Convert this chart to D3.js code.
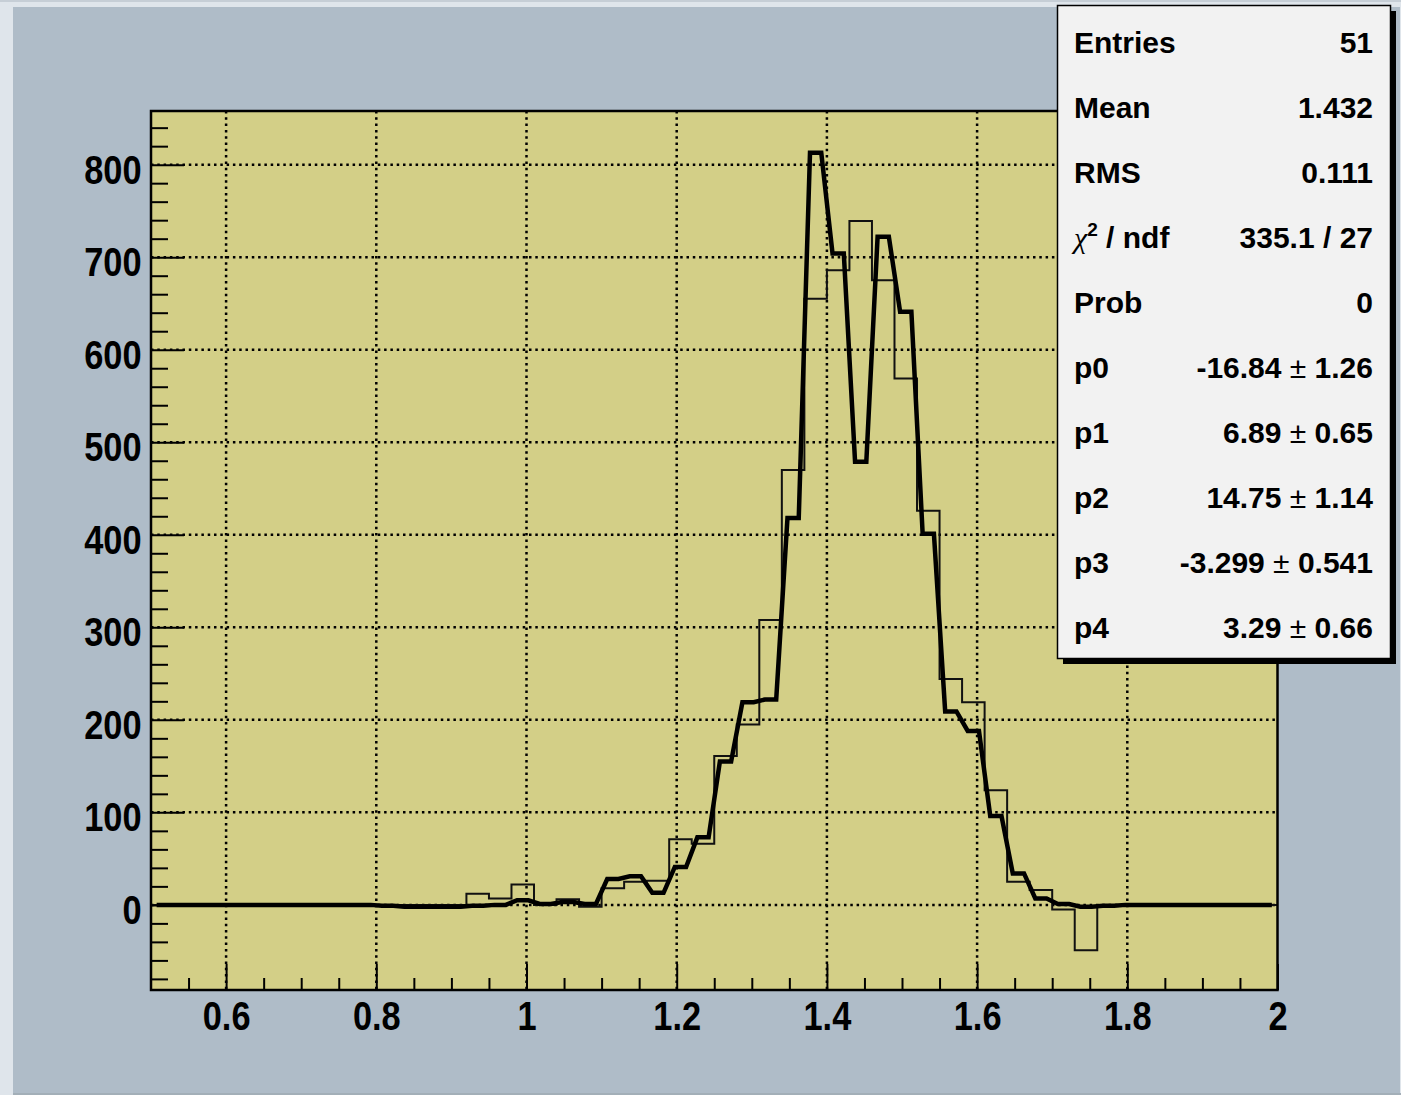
<!DOCTYPE html>
<html>
<head>
<meta charset="utf-8">
<script src="https://cdn.jsdelivr.net/npm/d3@7"></script>
<style>
  body { margin: 0; background: #dfe5eb; }
  svg { display: block; font-family: "Liberation Sans", Arial, Helvetica, sans-serif; }
</style>
</head>
<body>
<svg id="chart" width="1401" height="1095"></svg>
<script>
// histogram range and contents (50 bins)
const binLow = 0.5, binHigh = 2.0;
const histCounts = [
  0, 0, 0, 0, 0, 0, 0, 0, 0, 0,
  0, 0, 0, 0, 12, 7, 22, 0, 6, -2,
  18, 25, 26, 71, 66, 161, 195, 308, 470, 655,
  686, 739, 675, 569, 426, 244, 219, 124, 25, 16,
  -5, -49, -1, 0, 0, 0, 0, 0, 0, 0
];
// fitted function, one value per bin
const fitValues = [
  0, 0, 0, 0, 0, 0, 0, 0, 0, 0,
  -1, -2, -2, -2, -1, 0, 5, 1, 3, 1,
  28, 31, 13, 41, 73, 155, 219, 222, 418, 813,
  704, 479, 722, 641, 401, 209, 188, 96, 34, 7,
  1, -2, -1, 0, 0, 0, 0, 0, 0, 0
];
const yRange = [-92, 858];
const xTickValues = [0.6, 0.8, 1, 1.2, 1.4, 1.6, 1.8, 2];
const yTickValues = [0, 100, 200, 300, 400, 500, 600, 700, 800];
const statLabels = ["Entries", "Mean", "RMS", "chi2", "Prob", "p0", "p1", "p2", "p3", "p4"];
const statValues = ["51", "1.432", "0.111", "335.1 / 27", "0",
  "-16.84 ± 1.26", "6.89 ± 0.65", "14.75 ± 1.14", "-3.299 ± 0.541", "3.29 ± 0.66"];

const svg = d3.select("#chart");
const width = +svg.attr("width");
const height = +svg.attr("height");
const frame = { left: 151, right: 1277.5, top: 111, bottom: 990 };

// canvas
svg.append("rect").attr("width", width).attr("height", height).attr("fill", "#dfe5eb");
svg.append("line").attr("x1", 0).attr("x2", width).attr("y1", 1).attr("y2", 1)
  .attr("stroke", "#c6ced6").attr("stroke-width", 2);
svg.append("rect")
  .attr("x", 13).attr("y", 7).attr("width", 1387).attr("height", 1086)
  .attr("fill", "#afbcc8");
svg.append("line").attr("x1", 13).attr("x2", width).attr("y1", 1094).attr("y2", 1094)
  .attr("stroke", "#8f9ca7").attr("stroke-width", 1.5);

const x = d3.scaleLinear().domain([binLow, binHigh]).range([frame.left, frame.right]);
const y = d3.scaleLinear().domain(yRange).range([frame.bottom, frame.top]);

// frame fill
svg.append("rect")
  .attr("x", frame.left).attr("y", frame.top)
  .attr("width", frame.right - frame.left).attr("height", frame.bottom - frame.top)
  .attr("fill", "#d3cf87");

// dotted grid
const grid = svg.append("g")
  .attr("stroke", "#000").attr("stroke-width", 2.5).attr("stroke-dasharray", "2.5,3.8");
grid.selectAll(".gx").data(xTickValues.filter(v => v < binHigh)).join("line")
  .attr("x1", d => x(d)).attr("x2", d => x(d))
  .attr("y1", frame.top).attr("y2", frame.bottom);
grid.selectAll(".gy").data(yTickValues).join("line")
  .attr("x1", frame.left).attr("x2", frame.right)
  .attr("y1", d => y(d)).attr("y2", d => y(d));

// histogram
const binW = (binHigh - binLow) / histCounts.length;
const histPts = histCounts.map((v, i) => [binLow + i * binW, v]);
histPts.push([binHigh, histCounts[histCounts.length - 1]]);
svg.append("path")
  .datum(histPts)
  .attr("fill", "none")
  .attr("stroke", "#111")
  .attr("stroke-width", 2)
  .attr("d", d3.line().x(d => x(d[0])).y(d => y(d[1])).curve(d3.curveStepAfter));

// fit curve
const fitPts = fitValues.flatMap((v, i) => {
  const c = binLow + (i + 0.5) * binW;
  return [[c - binW / 4, v], [c + binW / 4, v]];
});
svg.append("path")
  .datum(fitPts)
  .attr("fill", "none")
  .attr("stroke", "#000")
  .attr("stroke-width", 4.5)
  .attr("d", d3.line().x(d => x(d[0])).y(d => y(d[1])));

// axes
function styleAxis(g) {
  g.attr("font-size", null).attr("font-family", null);
  g.select(".domain").remove();
  g.selectAll(".tick line").attr("stroke", "#000").attr("stroke-width", 2);
  g.selectAll(".tick text")
    .attr("fill", "#000")
    .style("font-size", "40px")
    .style("font-weight", "bold")
    .attr("transform", "scale(0.86,1)");
}

const xMinor = d3.range(0.55, 1.99, 0.05).filter(v => !xTickValues.some(t => Math.abs(t - v) < 1e-6));
svg.append("g")
  .attr("transform", `translate(0,${frame.bottom})`)
  .call(d3.axisBottom(x).tickValues(xMinor).tickSize(-12).tickFormat(""))
  .call(styleAxis);
svg.append("g")
  .attr("transform", `translate(0,${frame.bottom})`)
  .call(d3.axisBottom(x).tickValues(xTickValues).tickSize(-26).tickPadding(12).tickFormat(d => String(d)))
  .call(styleAxis);

const yMinor = d3.range(-80, 860, 20).filter(v => v % 100 !== 0);
svg.append("g")
  .attr("transform", `translate(${frame.left},0)`)
  .call(d3.axisLeft(y).tickValues(yMinor).tickSize(-17).tickFormat(""))
  .call(styleAxis);
svg.append("g")
  .attr("transform", `translate(${frame.left},0)`)
  .call(d3.axisLeft(y).tickValues(yTickValues).tickSize(-33).tickPadding(11).tickFormat(d => String(d)))
  .call(styleAxis)
  .selectAll(".tick text").attr("dy", "0.46em");

// frame border
svg.append("rect")
  .attr("x", frame.left).attr("y", frame.top)
  .attr("width", frame.right - frame.left).attr("height", frame.bottom - frame.top)
  .attr("fill", "none").attr("stroke", "#000").attr("stroke-width", 2.5);

// stats box
const box = { x: 1057.5, y: 5.5, w: 333, h: 653 };
svg.append("rect")
  .attr("x", box.x + 5.5).attr("y", box.y + 5.5).attr("width", box.w).attr("height", box.h)
  .attr("fill", "#000");
svg.append("rect")
  .attr("x", box.x).attr("y", box.y).attr("width", box.w).attr("height", box.h)
  .attr("fill", "#f2f2f2").attr("stroke", "#000").attr("stroke-width", 1.5);

const stats = svg.append("g")
  .style("font-size", "30px").style("font-weight", "bold").attr("fill", "#000");

statLabels.forEach((lab, i) => {
  const by = 53 + 65 * i;
  const t = stats.append("text").attr("x", 1074).attr("y", by);
  if (lab === "chi2") {
    t.append("tspan").text("χ")
      .style("font-family", "'Liberation Serif', 'DejaVu Serif', serif")
      .style("font-weight", "normal").style("font-style", "italic");
    t.append("tspan").text("2").style("font-size", "19px").attr("dy", -12);
    t.append("tspan").text(" / ndf").attr("dy", 12);
  } else {
    t.text(lab);
  }

  const v = stats.append("text").attr("x", 1373).attr("y", by).attr("text-anchor", "end");
  const parts = statValues[i].split(" ± ");
  if (parts.length === 2) {
    v.append("tspan").text(parts[0] + " ");
    v.append("tspan").text("±").style("font-weight", "normal");
    v.append("tspan").text(" " + parts[1]);
  } else {
    v.text(statValues[i]);
  }
});
</script>
</body>
</html>
